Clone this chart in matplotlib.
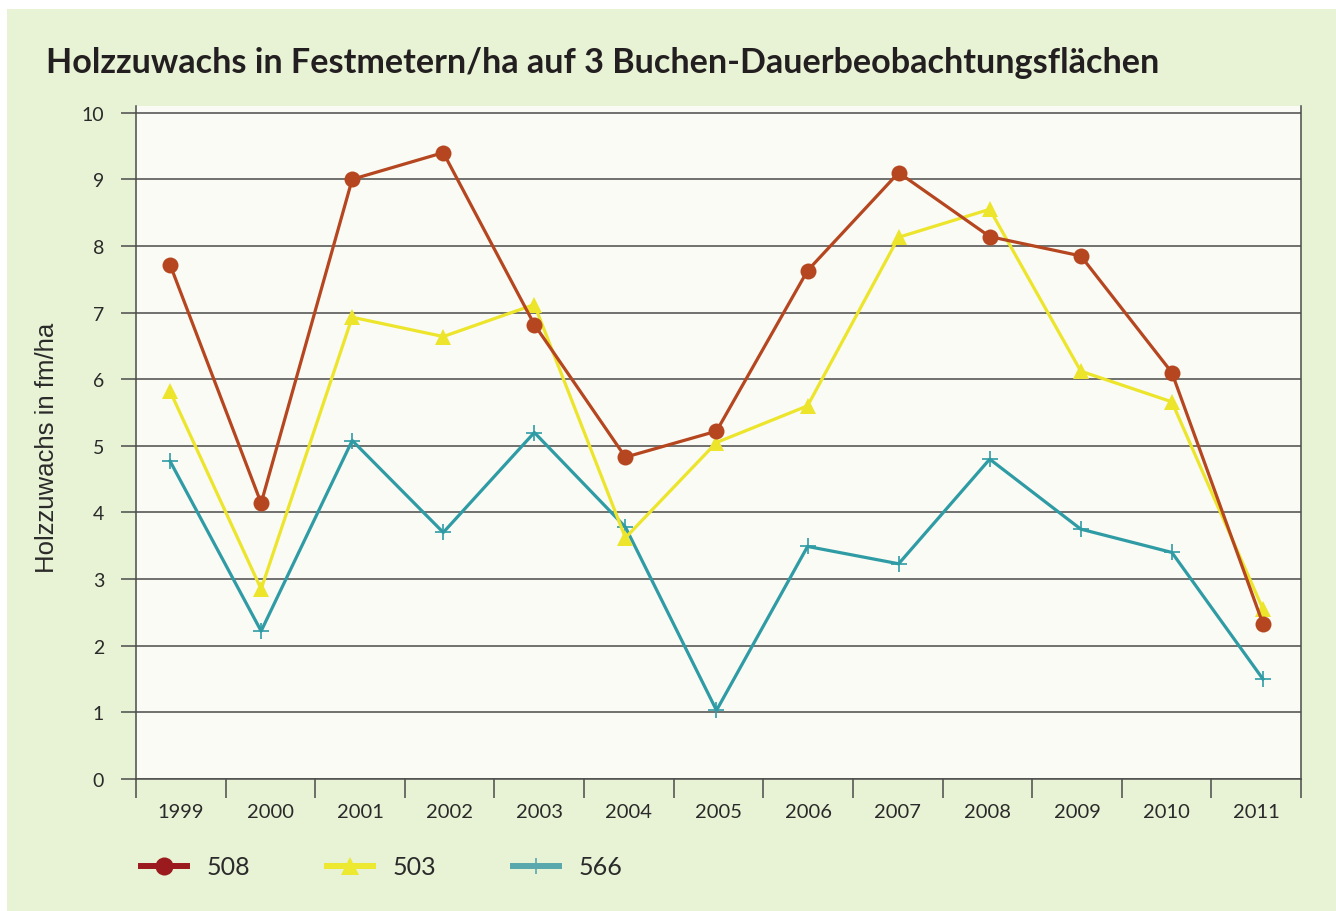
import numpy as np
import matplotlib
matplotlib.use("Agg")
import matplotlib.pyplot as plt
from matplotlib.patches import Rectangle
from matplotlib.lines import Line2D
from matplotlib.ticker import FixedLocator, NullFormatter

# Jahre und Zuwachswerte (fm/ha) der drei Buchen-Dauerbeobachtungsflächen
years = ["1999", "2000", "2001", "2002", "2003", "2004", "2005",
         "2006", "2007", "2008", "2009", "2010", "2011"]
series_names = ["508", "503", "566"]
values_508 = [7.72, 4.14, 9.0, 9.4, 6.82, 4.83, 5.22, 7.63, 9.1, 8.14, 7.85, 6.1, 2.33]
values_503 = [5.82, 2.85, 6.93, 6.64, 7.12, 3.62, 5.05, 5.6, 8.13, 8.55, 6.12, 5.66, 2.55]
values_566 = [4.77, 2.22, 5.08, 3.7, 5.2, 3.78, 1.03, 3.49, 3.23, 4.8, 3.75, 3.4, 1.5]
y_ticks = [0, 1, 2, 3, 4, 5, 6, 7, 8, 9, 10]

W, H = 1336, 912
fig = plt.figure(figsize=(W / 100, H / 100), dpi=100, facecolor="white")

# light green panel behind everything
fig.patches.append(Rectangle((7 / W, 0), 1 - 7 / W, 1 - 10 / H,
                             transform=fig.transFigure, facecolor="#e8f2d5",
                             edgecolor="none", zorder=-10))

ax_left, ax_right = 136, 1301
ax_top, ax_bottom = 107, 780
ax = fig.add_axes([ax_left / W, 1 - ax_bottom / H,
                   (ax_right - ax_left) / W, (ax_bottom - ax_top) / H])
ax.set_facecolor("#f9fbf4")

x = np.arange(len(years))
xmin, xmax = -0.374, 12.418
ax.set_xlim(xmin, xmax)
ax.set_ylim(0, 10.1)

line_kw = dict(linewidth=2.3, clip_on=False, zorder=3)
ax.plot(x, values_566, color="#2f9ba5", marker="+", markersize=11,
        markeredgewidth=1.2, **line_kw)
ax.plot(x, values_503, color="#ede52b", marker="^", markersize=11,
        markeredgewidth=0, **line_kw)
ax.plot(x, values_508, color="#b5461f", marker="o", markersize=11.5,
        markeredgewidth=0, **line_kw)

# horizontal grid
grid_color = "#4b4b4b"
ax.set_yticks(y_ticks)
ax.yaxis.grid(True, color=grid_color, linewidth=1.1)
ax.set_axisbelow(True)
ax.tick_params(axis="y", length=11, width=1.1, color=grid_color, pad=12,
               labelsize=14, labelcolor="#2a2a2a")

# category boundaries as tick marks, labels centred between them
bounds = np.linspace(xmin, xmax, len(years) + 1)
centers = (bounds[:-1] + bounds[1:]) / 2
ax.xaxis.set_minor_locator(FixedLocator(bounds))
ax.xaxis.set_minor_formatter(NullFormatter())
ax.set_xticks(centers)
ax.set_xticklabels(years)
ax.tick_params(axis="x", which="major", length=0, pad=17,
               labelsize=14.5, labelcolor="#2a2a2a")
ax.tick_params(axis="x", which="minor", length=14, width=1.1, color=grid_color)

for side in ["left", "right", "bottom"]:
    ax.spines[side].set_color(grid_color)
    ax.spines[side].set_linewidth(1.1)
ax.spines["top"].set_visible(False)

for lab in ax.get_xticklabels() + ax.get_yticklabels():
    lab.set_family("Lato")

fig.text(46 / W, 1 - 73 / H,
         "Holzzuwachs in Festmetern/ha auf 3 Buchen-Dauerbeobachtungsflächen",
         family="Lato", weight="bold", fontsize=24.6, color="#231f20",
         ha="left", va="baseline")

fig.text(47 / W, 1 - 448 / H, "Holzzuwachs in fm/ha", rotation=90,
         family="Liberation Sans", fontsize=18.5, color="#2a2a2a",
         ha="center", va="center")

handles = [
    Line2D([], [], color="#9a1a1e", linewidth=4.3, marker="o",
           markersize=13, markeredgewidth=0),
    Line2D([], [], color="#ede830", linewidth=4.3, marker="^",
           markersize=13, markeredgewidth=0),
    Line2D([], [], color="#58a8ad", linewidth=4.3, marker="|",
           markersize=12, markeredgewidth=1.2),
]
leg = fig.legend(handles, series_names, loc="center left",
                 bbox_to_anchor=(118 / W, 1 - 868 / H), ncol=3,
                 frameon=False, handlelength=1.85, handletextpad=0.8,
                 columnspacing=3.05, prop={"family": "Lato", "size": 18})
for t in leg.get_texts():
    t.set_color("#2a2a2a")

fig.savefig("out.png", dpi=100, facecolor=fig.get_facecolor())
